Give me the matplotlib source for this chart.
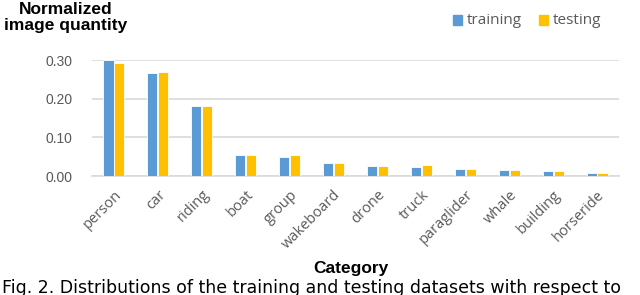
import numpy as np
import matplotlib
matplotlib.use("Agg")
import matplotlib.pyplot as plt
from matplotlib.patches import Rectangle

categories = ["person", "car", "riding", "boat", "group", "wakeboard", "drone",
              "truck", "paraglider", "whale", "building", "horseride"]
training = [0.300, 0.266, 0.181, 0.055, 0.050, 0.034, 0.027, 0.024, 0.018, 0.016, 0.013, 0.007]
testing = [0.291, 0.269, 0.181, 0.055, 0.055, 0.034, 0.027, 0.028, 0.017, 0.016, 0.013, 0.007]
yticks = [0.0, 0.1, 0.2, 0.3]

blue = "#5B9BD5"
yellow = "#FFC000"
grid = "#D9D9D9"
grey = "#595959"

plt.rcParams["font.family"] = ["Liberation Sans", "DejaVu Sans"]

fig = plt.figure(figsize=(6.4, 2.95), dpi=100)
ax = fig.add_axes([92 / 640, 1 - 176 / 295, 527 / 640, 116 / 295])

x = np.arange(len(categories))
w = 0.23
ax.bar(x - 0.125, training, w, color=blue, edgecolor="white", linewidth=0.6, zorder=3)
ax.bar(x + 0.125, testing, w, color=yellow, edgecolor="white", linewidth=0.6, zorder=3)

ax.set_xlim(-0.5, len(categories) - 0.5)
ax.set_ylim(0, 0.30)
ax.set_yticks(yticks)
ax.set_yticklabels(["%.2f" % v for v in yticks], color=grey, fontsize=10)
ax.yaxis.grid(True, color=grid, linewidth=1.2, zorder=0)
ax.set_xticks(x)
ax.set_xticklabels(categories, rotation=45, ha="right", rotation_mode="anchor",
                   color=grey, fontsize=10.5, family=["Open Sans", "DejaVu Sans"])
ax.tick_params(axis="both", length=0)
ax.tick_params(axis="x", pad=8)
ax.tick_params(axis="y", pad=14)
for s in ["top", "right", "left"]:
    ax.spines[s].set_visible(False)
ax.spines["bottom"].set_color(grid)
ax.spines["bottom"].set_linewidth(1.2)
ax.set_axisbelow(True)

# title on top left
fig.text(66 / 640, 1 - 2 / 295, "Normalized\nimage quantity", ha="center", va="top",
         fontsize=12.5, fontweight="bold", linespacing=1.1)

# legend
for lx, tx, col, lab in [(453, 467, blue, "training"), (539, 553, yellow, "testing")]:
    fig.patches.append(Rectangle((lx / 640, 1 - 25 / 295), 9 / 640, 10 / 295,
                                 transform=fig.transFigure, color=col))
    fig.text(tx / 640, 1 - 20 / 295, lab, ha="left", va="center", color=grey,
             fontsize=11, family=["Open Sans", "DejaVu Sans"])

fig.text(351 / 640, 1 - 268 / 295, "Category", ha="center", va="center",
         fontsize=12.5, fontweight="bold")
fig.text(2 / 640, 1 - 293 / 295, "Fig. 2. Distributions of the training and testing datasets with respect to",
         ha="left", va="baseline", fontsize=12.5, family=["DejaVu Sans"])

fig.savefig("out.png", dpi=100)
